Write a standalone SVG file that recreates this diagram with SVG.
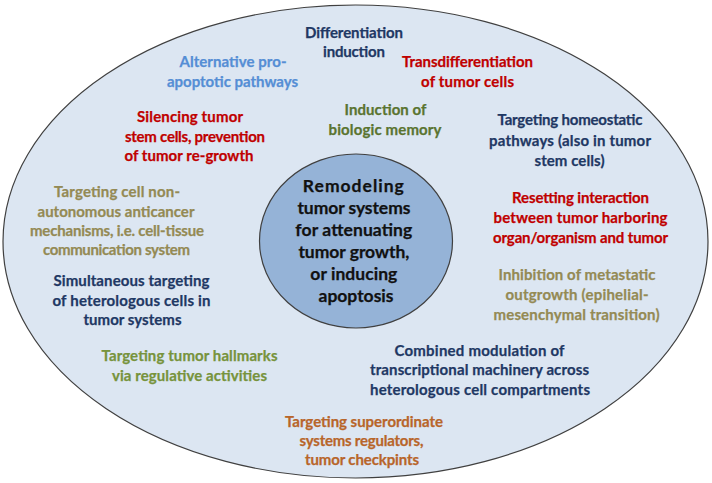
<svg xmlns="http://www.w3.org/2000/svg" width="712" height="483" viewBox="0 0 712 483">
<style>
  text { font-family: Lato, "Liberation Sans", sans-serif; font-weight: bold; font-size: 15px; text-anchor: middle; stroke-width: 0.25; }
  .navy { fill: #1F3864; stroke: #1F3864; }
  .red { fill: #C00000; stroke: #C00000; }
  .lblue { fill: #558ED5; stroke: #558ED5; }
  .dgreen { fill: #5A7430; stroke: #5A7430; }
  .lgreen { fill: #77933C; stroke: #77933C; }
  .khaki { fill: #948A54; stroke: #948A54; }
  .orange { fill: #B8652A; stroke: #B8652A; }
  .center { fill: #111111; stroke: #111111; font-size: 17.5px; }
</style>
<rect width="712" height="483" fill="#ffffff"/>
<g id="outer">
  <ellipse cx="355.5" cy="241.5" rx="352.5" ry="236.5" fill="#DCE6F2" stroke="#404040" stroke-width="1.2"/>
</g>
<g id="core">
  <ellipse cx="356" cy="241" rx="96.5" ry="87" fill="#95B3D7" stroke="#404040" stroke-width="1.2"/>
  <text class="center">
    <tspan x="356" y="192" textLength="101">Remodeling</tspan>
    <tspan x="356" y="214" textLength="113">tumor systems</tspan>
    <tspan x="356" y="236" textLength="117">for attenuating</tspan>
    <tspan x="356" y="258" textLength="111">tumor growth,</tspan>
    <tspan x="356" y="280" textLength="87">or inducing</tspan>
    <tspan x="356" y="302" textLength="75">apoptosis</tspan>
  </text>
</g>
<g id="differentiation">
  <text class="navy"><tspan x="354" y="37.5" textLength="98">Differentiation</tspan><tspan x="354" y="56.5" textLength="62">induction</tspan></text>
</g>
<g id="alternative">
  <text class="lblue"><tspan x="233" y="67" textLength="107">Alternative pro-</tspan><tspan x="232.5" y="87" textLength="131">apoptotic pathways</tspan></text>
</g>
<g id="transdifferentiation">
  <text class="red"><tspan x="467.5" y="67" textLength="131">Transdifferentiation</tspan><tspan x="467.5" y="86.5" textLength="93">of tumor cells</tspan></text>
</g>
<g id="silencing">
  <text class="red"><tspan x="190" y="122" textLength="106">Silencing tumor</tspan><tspan x="195" y="141.5" textLength="140">stem cells, prevention</tspan><tspan x="189" y="161" textLength="129">of tumor re-growth</tspan></text>
</g>
<g id="memory">
  <text class="dgreen"><tspan x="385.5" y="115" textLength="82">Induction of</tspan><tspan x="385" y="134.5" textLength="113">biologic memory</tspan></text>
</g>
<g id="homeostatic">
  <text class="navy"><tspan x="570" y="125" textLength="145">Targeting homeostatic</tspan><tspan x="570" y="145.5" textLength="162">pathways (also in tumor</tspan><tspan x="569.5" y="166" textLength="70">stem cells)</tspan></text>
</g>
<g id="nonautonomous">
  <text class="khaki"><tspan x="117" y="196.5" textLength="126">Targeting cell non-</tspan><tspan x="116" y="216.5" textLength="157">autonomous anticancer</tspan><tspan x="117" y="236" textLength="174">mechanisms, i.e. cell-tissue</tspan><tspan x="116.5" y="255" textLength="147">communication system</tspan></text>
</g>
<g id="resetting">
  <text class="red"><tspan x="580.5" y="203" textLength="137">Resetting interaction</tspan><tspan x="580.5" y="223" textLength="174">between tumor harboring</tspan><tspan x="580.5" y="243" textLength="175">organ/organism and tumor</tspan></text>
</g>
<g id="simultaneous">
  <text class="navy"><tspan x="131.5" y="285.5" textLength="156">Simultaneous targeting</tspan><tspan x="131.5" y="305.5" textLength="158">of heterologous cells in</tspan><tspan x="132.5" y="324.5" textLength="98">tumor systems</tspan></text>
</g>
<g id="metastatic">
  <text class="khaki"><tspan x="577" y="279.5" textLength="157">Inhibition of metastatic</tspan><tspan x="577" y="299.5" textLength="143">outgrowth (epihelial-</tspan><tspan x="576.5" y="319.5" textLength="166">mesenchymal transition)</tspan></text>
</g>
<g id="hallmarks">
  <text class="lgreen"><tspan x="189.5" y="361" textLength="176">Targeting tumor hallmarks</tspan><tspan x="189.5" y="380.5" textLength="155">via regulative activities</tspan></text>
</g>
<g id="transcriptional">
  <text class="navy"><tspan x="479.5" y="355.5" textLength="170">Combined modulation of</tspan><tspan x="479.5" y="374.5" textLength="219">transcriptional machinery across</tspan><tspan x="480" y="394.5" textLength="220">heterologous cell compartments</tspan></text>
</g>
<g id="superordinate">
  <text class="orange"><tspan x="364" y="426.5" textLength="158">Targeting superordinate</tspan><tspan x="361.5" y="446" textLength="124">systems regulators,</tspan><tspan x="362" y="465" textLength="114">tumor checkpints</tspan></text>
</g>
</svg>
